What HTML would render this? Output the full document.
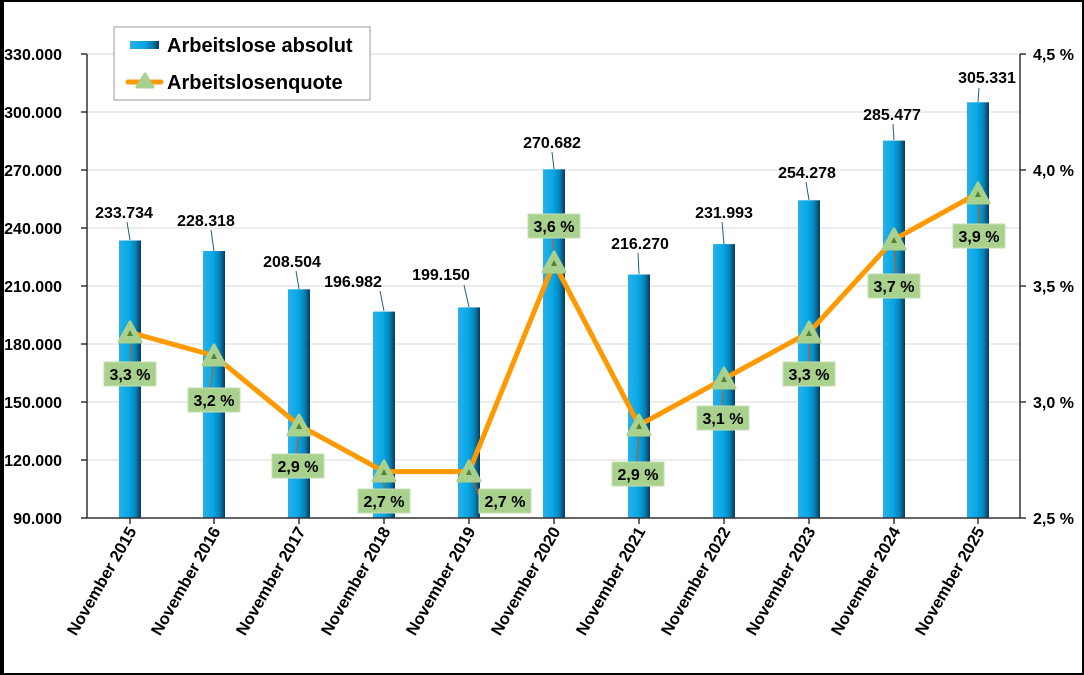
<!DOCTYPE html>
<html><head><meta charset="utf-8"><style>
html,body{margin:0;padding:0;background:#fff}
svg{display:block;font-family:"Liberation Sans",Arial,sans-serif;font-weight:bold}
</style></head><body>
<svg width="1084" height="675" viewBox="0 0 1084 675" xmlns="http://www.w3.org/2000/svg">
<defs>
<linearGradient id="bg" x1="0" x2="1" y1="0" y2="0">
<stop offset="0" stop-color="#29b0e8"/><stop offset="0.45" stop-color="#08a8e6"/><stop offset="0.75" stop-color="#0583b8"/><stop offset="1" stop-color="#083a5c"/>
</linearGradient>
</defs>
<rect x="1" y="1" width="1082" height="673" fill="#fff" stroke="#000" stroke-width="2"/>
<rect x="1" y="1" width="3" height="673" fill="#000"/>
<g stroke="#d9d9d9" stroke-width="1">
<line x1="87" x2="1020" y1="54" y2="54"/><line x1="87" x2="1020" y1="112" y2="112"/><line x1="87" x2="1020" y1="170" y2="170"/><line x1="87" x2="1020" y1="228" y2="228"/><line x1="87" x2="1020" y1="286" y2="286"/><line x1="87" x2="1020" y1="344" y2="344"/><line x1="87" x2="1020" y1="402" y2="402"/><line x1="87" x2="1020" y1="460" y2="460"/>
</g>
<g fill="url(#bg)">
<rect x="119" y="240.5" width="22" height="277.5"/>
<rect x="203" y="251" width="22" height="267"/>
<rect x="288" y="289.3" width="22" height="228.7"/>
<rect x="373" y="311.6" width="22" height="206.4"/>
<rect x="458" y="307.4" width="22" height="210.6"/>
<rect x="543" y="169.3" width="22" height="348.7"/>
<rect x="628" y="274.5" width="22" height="243.5"/>
<rect x="713" y="244.1" width="22" height="273.9"/>
<rect x="798" y="200.3" width="22" height="317.7"/>
<rect x="883" y="140.6" width="22" height="377.4"/>
<rect x="967" y="102.3" width="22" height="415.7"/>
</g>
<g stroke="#333" stroke-width="1.5" fill="none">
<line x1="87" y1="54" x2="87" y2="518"/><line x1="1020" y1="54" x2="1020" y2="518"/><line x1="87" y1="518" x2="1020" y2="518"/>
<path d="M81 54H87M81 112H87M81 170H87M81 228H87M81 286H87M81 344H87M81 402H87M81 460H87M81 518H87"/>
<path d="M1020 54H1026M1020 170H1026M1020 286H1026M1020 402H1026M1020 518H1026"/>
<path d="M130 518v6M214 518v6M299 518v6M384 518v6M469 518v6M554 518v6M639 518v6M724 518v6M809 518v6M894 518v6M978 518v6"/>
</g>
<g font-size="16" text-anchor="end" fill="#000">
<text x="62" y="60">330.000</text><text x="62" y="118">300.000</text><text x="62" y="176">270.000</text><text x="62" y="234">240.000</text><text x="62" y="292">210.000</text><text x="62" y="350">180.000</text><text x="62" y="408">150.000</text><text x="62" y="466">120.000</text><text x="62" y="524">90.000</text>
</g>
<g font-size="16" fill="#000">
<text x="1033" y="60">4,5 %</text><text x="1033" y="176">4,0 %</text><text x="1033" y="292">3,5 %</text><text x="1033" y="408">3,0 %</text><text x="1033" y="524">2,5 %</text>
</g>
<g stroke="#1f5f7f" stroke-width="1">
<line x1="127" y1="222" x2="130" y2="240"/><line x1="211" y1="230" x2="214" y2="251"/><line x1="296" y1="271" x2="299" y2="289"/><line x1="380" y1="291" x2="384" y2="311"/><line x1="464" y1="285" x2="469" y2="307"/><line x1="552" y1="152" x2="554" y2="169"/><line x1="638" y1="253" x2="639" y2="274"/><line x1="722" y1="222" x2="724" y2="244"/><line x1="806" y1="182" x2="809" y2="200"/><line x1="893" y1="124" x2="894" y2="140"/><line x1="979" y1="88" x2="978" y2="102"/>
</g>
<g font-size="16" text-anchor="middle" fill="#000">
<text x="124" y="218">233.734</text><text x="206" y="226">228.318</text><text x="292" y="267">208.504</text><text x="353" y="287">196.982</text><text x="441" y="280">199.150</text><text x="552" y="148">270.682</text><text x="640" y="249">216.270</text><text x="724" y="218">231.993</text><text x="807" y="178">254.278</text><text x="892" y="120">285.477</text><text x="987" y="83">305.331</text>
</g>
<polyline fill="none" stroke="#ff9900" stroke-width="5" stroke-linejoin="round" points="130,332.4 214,355.6 299,425.2 384,471.6 469,471.6 554,262.8 639,425.2 724,378.8 809,332.4 894,239.6 978,193.2"/>
<g stroke="#c55a11" stroke-width="1.2">
<line x1="130" y1="332" x2="132" y2="362"/><line x1="214" y1="356" x2="211" y2="388"/><line x1="299" y1="425" x2="297" y2="454"/><line x1="384" y1="472" x2="384" y2="489"/><line x1="469" y1="472" x2="479" y2="495"/><line x1="554" y1="263" x2="553" y2="238"/><line x1="639" y1="425" x2="637" y2="462"/><line x1="724" y1="379" x2="722" y2="406"/><line x1="809" y1="332" x2="809" y2="362"/><line x1="894" y1="240" x2="896" y2="274"/><line x1="978" y1="193" x2="979" y2="224"/>
</g>
<g fill="#a9d18e" stroke="#a9d18e" stroke-width="3" stroke-linejoin="round">
<path d="M130 322l-11 20h22z"/><path d="M214 345l-11 20h22z"/><path d="M299 415l-11 20h22z"/><path d="M384 461l-11 20h22z"/><path d="M469 461l-11 20h22z"/><path d="M554 252l-11 20h22z"/><path d="M639 415l-11 20h22z"/><path d="M724 368l-11 20h22z"/><path d="M809 322l-11 20h22z"/><path d="M894 229l-11 20h22z"/><path d="M978 183l-11 20h22z"/>
</g>
<g fill="#548235">
<path d="M130 330l-3 6h6z"/><path d="M214 353l-3 6h6z"/><path d="M299 423l-3 6h6z"/><path d="M384 469l-3 6h6z"/><path d="M469 469l-3 6h6z"/><path d="M554 260l-3 6h6z"/><path d="M639 423l-3 6h6z"/><path d="M724 376l-3 6h6z"/><path d="M809 330l-3 6h6z"/><path d="M894 237l-3 6h6z"/><path d="M978 191l-3 6h6z"/>
</g>
<g fill="#a9d18e" stroke="#c5e0b4" stroke-width="1">
<rect x="104" y="362" width="52" height="24"/><rect x="188" y="388" width="52" height="24"/><rect x="272" y="454" width="52" height="24"/><rect x="358" y="489" width="52" height="24"/><rect x="479" y="489" width="52" height="24"/><rect x="528" y="214" width="52" height="24"/><rect x="612" y="462" width="52" height="24"/><rect x="697" y="406" width="52" height="24"/><rect x="783" y="362" width="52" height="24"/><rect x="868" y="274" width="52" height="24"/><rect x="953" y="224" width="52" height="24"/>
</g>
<g font-size="16" text-anchor="middle" fill="#000">
<text x="130" y="380">3,3 %</text><text x="214" y="406">3,2 %</text><text x="298" y="472">2,9 %</text><text x="384" y="507">2,7 %</text><text x="505" y="507">2,7 %</text><text x="554" y="232">3,6 %</text><text x="638" y="480">2,9 %</text><text x="723" y="424">3,1 %</text><text x="809" y="380">3,3 %</text><text x="894" y="292">3,7 %</text><text x="979" y="242">3,9 %</text>
</g>
<g font-size="16.5" text-anchor="end" fill="#000">
<text transform="translate(137,531) rotate(-60)">November 2015</text>
<text transform="translate(221,531) rotate(-60)">November 2016</text>
<text transform="translate(306,531) rotate(-60)">November 2017</text>
<text transform="translate(391,531) rotate(-60)">November 2018</text>
<text transform="translate(476,531) rotate(-60)">November 2019</text>
<text transform="translate(561,531) rotate(-60)">November 2020</text>
<text transform="translate(646,531) rotate(-60)">November 2021</text>
<text transform="translate(731,531) rotate(-60)">November 2022</text>
<text transform="translate(816,531) rotate(-60)">November 2023</text>
<text transform="translate(901,531) rotate(-60)">November 2024</text>
<text transform="translate(985,531) rotate(-60)">November 2025</text>
</g>
<rect x="114" y="27" width="256" height="73" fill="#fff" stroke="#999" stroke-width="1"/>
<rect x="130" y="41" width="29" height="8" fill="url(#bg)"/>
<line x1="128" y1="82" x2="161" y2="82" stroke="#ff9900" stroke-width="5" stroke-linecap="round"/>
<path d="M145 74l-8 13h16z" fill="#a9d18e" stroke="#a9d18e" stroke-width="3" stroke-linejoin="round"/>
<text x="167" y="52" font-size="20" fill="#000">Arbeitslose absolut</text>
<text x="167" y="89" font-size="20" fill="#000">Arbeitslosenquote</text>
</svg>
</body></html>
